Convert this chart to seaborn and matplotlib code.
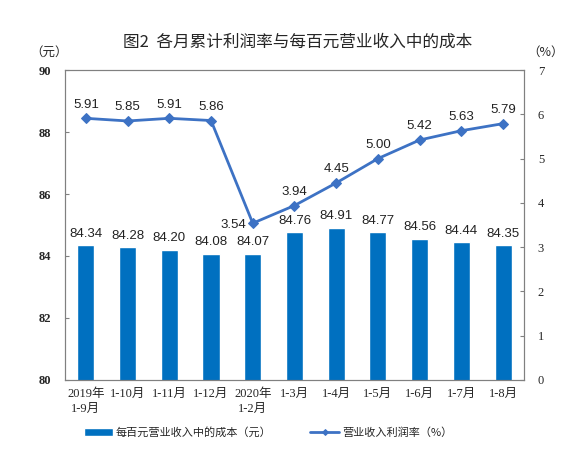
import matplotlib
matplotlib.use("Agg")
import matplotlib.pyplot as plt
import seaborn as sns
import pandas as pd
import numpy as np

categories = ["2019年\n1-9月", "1-10月", "1-11月", "1-12月", "2020年\n1-2月",
              "1-3月", "1-4月", "1-5月", "1-6月", "1-7月", "1-8月"]
cost_values = [84.34, 84.28, 84.20, 84.08, 84.07, 84.76, 84.91, 84.77, 84.56, 84.44, 84.35]
margin_values = [5.91, 5.85, 5.91, 5.86, 3.54, 3.94, 4.45, 5.00, 5.42, 5.63, 5.79]
left_ticks = [80, 82, 84, 86, 88, 90]
right_ticks = [0, 1, 2, 3, 4, 5, 6, 7]

sns.set_theme(style="white")
CJK = ["Noto Sans CJK SC", "DejaVu Sans"]
SERIF = ["Liberation Serif", "Noto Sans CJK SC"]
plt.rcParams["font.family"] = CJK

bar_color = "#0070C0"
line_color = "#3D72C4"

df = pd.DataFrame({"cat": categories, "cost": cost_values, "margin": margin_values})

fig = plt.figure(figsize=(5.77, 4.55), dpi=100)
ax = fig.add_axes([0.1127, 0.165, 0.7953, 0.681])
sns.barplot(data=df, x="cat", y="cost", color=bar_color, width=0.41, ax=ax,
            saturation=1, label="每百元营业收入中的成本（元）")
ax.set_ylim(80, 90)
ax.set_yticks(left_ticks)
ax.set_xlim(-0.5, len(categories) - 0.5)
ax.set_xlabel("")
ax.set_ylabel("")
for i, v in enumerate(cost_values):
    ax.text(i, v + 0.18, f"{v:.2f}", ha="center", va="bottom", fontsize=9.5,
            family=["Liberation Sans"], color="#222222")

ax2 = ax.twinx()
sns.lineplot(x=np.arange(len(categories)), y=margin_values, ax=ax2, color=line_color,
             marker="D", markersize=5, markeredgecolor=line_color, linewidth=2,
             label="营业收入利润率（%）", legend=False)
ax2.set_ylim(0, 7)
ax2.set_yticks(right_ticks)
for i, v in enumerate(margin_values):
    if i == 4:
        ax2.text(i - 0.15, v - 0.05, f"{v:.2f}", ha="right", va="center", fontsize=9.5,
                 family=["Liberation Sans"], color="#222222")
    else:
        ax2.text(i, v + 0.17, f"{v:.2f}", ha="center", va="bottom", fontsize=9.5,
                 family=["Liberation Sans"], color="#222222")
ax2.grid(False)
ax.grid(False)

for a in (ax, ax2):
    for s in a.spines.values():
        s.set_color("#808080")
        s.set_linewidth(0.8)
    a.tick_params(direction="in", length=3, color="#808080", width=0.8)

ax.set_xticks(np.arange(len(categories)) - 0.5, minor=True)
ax.tick_params(axis="x", which="major", length=0, pad=6)
ax.tick_params(axis="x", which="minor", direction="in", length=3, color="#808080")
ax.set_xticks(np.arange(len(categories)))
ax.set_xticklabels(categories, fontsize=9, family=SERIF, linespacing=1.3, va="top")
for lbl in ax.get_yticklabels():
    lbl.set_fontfamily(SERIF)
    lbl.set_fontsize(9)
    lbl.set_fontweight("bold")
for lbl in ax2.get_yticklabels():
    lbl.set_fontfamily(SERIF)
    lbl.set_fontsize(9)
ax.tick_params(axis="y", pad=10)
ax2.tick_params(axis="y", pad=10)

fig.text(0.515, 0.908, "图2  各月累计利润率与每百元营业收入中的成本", ha="center", va="center",
         fontsize=12, family=CJK)
fig.text(0.085, 0.885, "（元）", ha="center", va="center", fontsize=9, family=CJK)
fig.text(0.945, 0.885, "（%）", ha="center", va="center", fontsize=9, family=CJK)

h1, l1 = ax.get_legend_handles_labels()
h2, l2 = ax2.get_legend_handles_labels()
if ax.get_legend():
    ax.get_legend().remove()
leg = fig.legend(h1 + h2, l1 + l2, loc="center", bbox_to_anchor=(0.465, 0.05), ncol=2,
                 frameon=False, handlelength=2.6, columnspacing=3.5, handletextpad=0.3,
                 prop={"family": CJK, "size": 8})
for line in leg.get_lines():
    line.set_markersize(3)

fig.savefig("out.png", dpi=100)
